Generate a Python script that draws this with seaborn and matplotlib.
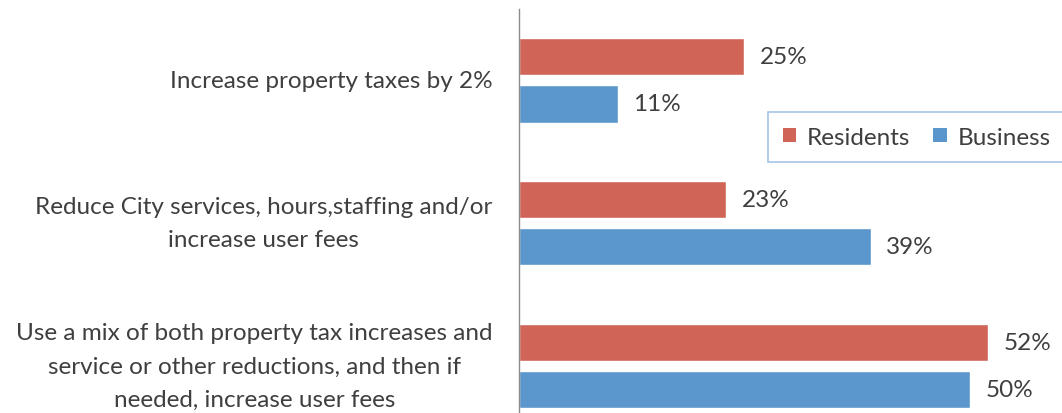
import matplotlib
matplotlib.use("Agg")
import matplotlib.pyplot as plt
import seaborn as sns
import pandas as pd
from matplotlib.patches import Patch

categories = [
    "Increase property taxes by 2%",
    "Reduce City services, hours,staffing and/or\nincrease user fees",
    "Use a mix of both property tax increases and\nservice or other reductions, and then if\nneeded, increase user fees",
]
series = ["Residents", "Business"]
residents = [25, 23, 52]
business = [11, 39, 50]
colors = {"Residents": "#D06457", "Business": "#5B96CC"}

df = pd.DataFrame({
    "option": categories * 2,
    "group": ["Residents"] * 3 + ["Business"] * 3,
    "pct": residents + business,
})

sns.set_style("white")
plt.rcParams["font.family"] = ["Lato", "DejaVu Sans"]
text_color = "#3F3F3F"
fs = 17.5

fig = plt.figure(figsize=(10.62, 4.14), dpi=100)
ax = fig.add_axes([519 / 1062, 0.0, 1 - 519 / 1062, 1 - 10 / 414])

sns.barplot(data=df, y="option", x="pct", hue="group", order=categories,
            hue_order=series, palette=colors, orient="h", width=0.66, gap=0.21,
            saturation=1, legend=False, ax=ax)

for cont in ax.containers:
    ax.bar_label(cont, labels=[f"{v:.0f}%" for v in cont.datavalues],
                 padding=11, fontsize=fs, color=text_color)

ax.set_xlim(0, 60.2)
ax.set_ylim(2.33, -0.5)
ax.set_xlabel("")
ax.set_ylabel("")
ax.set_xticks([])
ax.tick_params(axis="y", length=0, pad=19)
for lbl in ax.get_yticklabels():
    lbl.set_fontsize(fs)
    lbl.set_color(text_color)
    lbl.set_multialignment("center")
    lbl.set_verticalalignment("center")
    lbl.set_linespacing(1.73)
for side in ["top", "right", "bottom"]:
    ax.spines[side].set_visible(False)
ax.spines["left"].set_color("#8C8C8C")
ax.spines["left"].set_linewidth(1.0)

handles = [Patch(facecolor=colors[s], edgecolor="none", label=s) for s in series]
leg = fig.legend(handles=handles, ncol=2, loc="upper left",
                 bbox_to_anchor=(768 / 1062, 1 - 113 / 414),
                 frameon=True, fancybox=False, fontsize=fs,
                 handlelength=0.55, handleheight=0.55, handletextpad=0.45,
                 columnspacing=0.95, borderpad=0.6, borderaxespad=0)
leg.get_frame().set_edgecolor("#8DB4E2")
leg.get_frame().set_linewidth(1.2)
for t in leg.get_texts():
    t.set_color(text_color)

fig.savefig("out.png", dpi=100)
